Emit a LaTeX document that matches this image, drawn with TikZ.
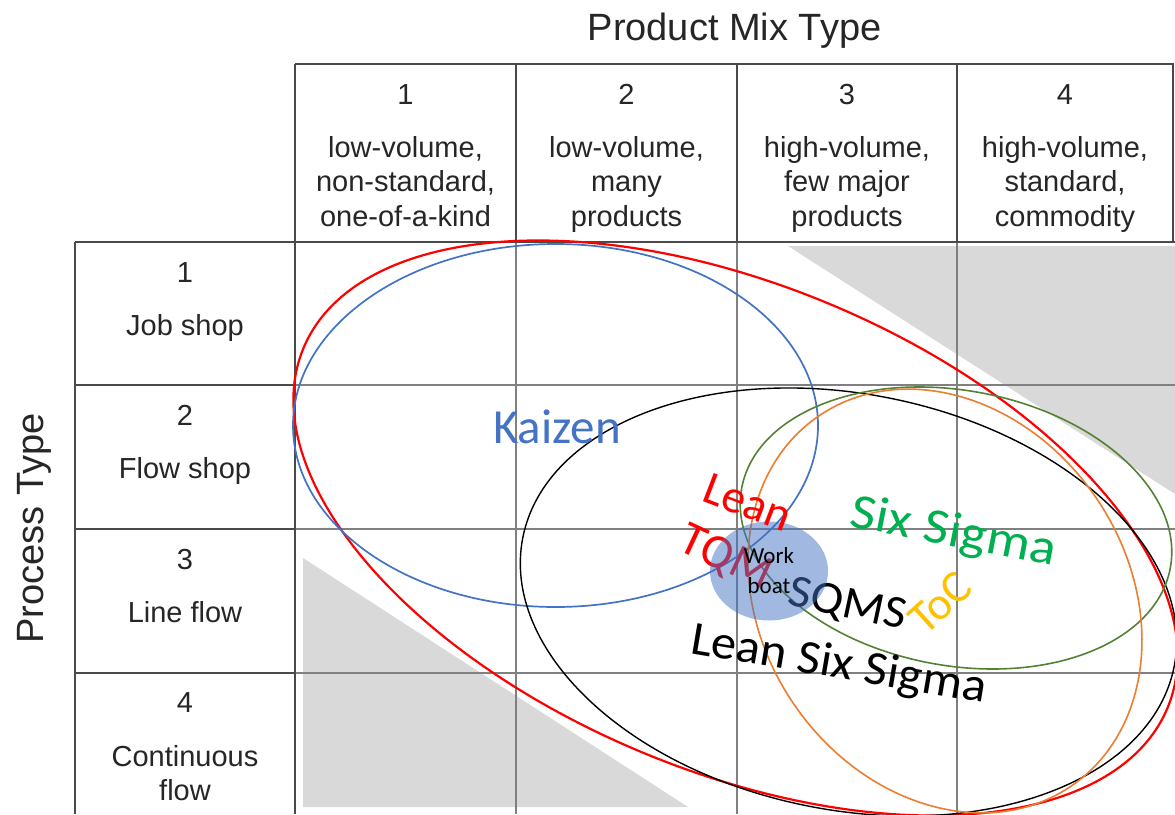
\documentclass[tikz,border=0pt]{standalone}
\usepackage{fontspec}
\usepackage{graphicx}
\setmainfont{Liberation Sans}
\newfontfamily\carl{Carlito}
\usetikzlibrary{shapes.geometric}
\definecolor{shadegray}{HTML}{D9D9D9}
\definecolor{gridgray}{HTML}{808080}
\definecolor{darkline}{HTML}{4A4A4A}
\definecolor{txt}{HTML}{262626}
\definecolor{kblue}{HTML}{4472C4}
\definecolor{sgreen}{HTML}{00B050}
\definecolor{egreen}{HTML}{548235}
\definecolor{eorange}{HTML}{ED7D31}
\definecolor{tocyellow}{HTML}{FFC000}
\begin{document}
\begin{tikzpicture}[x=1pt,y=-1pt,
  gridline/.style={draw=gridgray, line width=2.2pt},
  boxline/.style={draw=darkline, line width=1.8pt},
  tabtext/.style={font=\fontsize{29}{34}\selectfont, text=txt, anchor=base, inner sep=0pt},
  art/.style={anchor=base, inner sep=0pt},
]
\useasboundingbox (0,0) rectangle (1175,814);
\clip (0,0) rectangle (1175,814);
\fill[white] (0,0) rectangle (1175,814);
% grey triangles
\fill[fill=shadegray] (788,246) -- (1175,246) -- (1175,494) -- cycle;
\fill[fill=shadegray] (303,558) -- (688,807) -- (303,807) -- cycle;
% grid lines
\foreach \x in {516,737,957} \draw[gridline] (\x,242) -- (\x,814);
\foreach \y in {385,529,673} \draw[gridline] (295,\y) -- (1175,\y);
\foreach \y in {385,529,673} \draw[boxline] (75,\y) -- (295,\y);
\foreach \x in {516,737,957} \draw[boxline] (\x,64) -- (\x,242);
\draw[boxline] (295,64) -- (1173,64) -- (1173,242);
\draw[boxline] (295,64) -- (295,814);
\draw[boxline] (75,242) -- (1175,242);
\draw[boxline] (75,242) -- (75,814);
% titles
\node[anchor=base, inner sep=0pt, text=txt, font=\fontsize{38}{42}\selectfont] (title) at (734.5,40) {Product Mix Type};
\node[anchor=base, inner sep=0pt, text=txt, rotate=90, font=\fontsize{38}{42}\selectfont] (ptype) at (43,528.5) {Process Type};
% column headers
\foreach \i/\x/\a/\b/\c in {1/405.5/{low-volume,}/{non-standard,}/{one-of-a-kind},
  2/626.5/{low-volume,}/{many}/{products},
  3/847/{high-volume,}/{few major}/{products},
  4/1065/{high-volume,}/{standard,}/{commodity}}{
  \node[tabtext] (colnum\i) at (\x,104) {\i};
  \node[tabtext] (colA\i) at (\x,157) {\a};
  \node[tabtext] (colB\i) at (\x,191.5) {\b};
  \node[tabtext] (colC\i) at (\x,226) {\c};
}
% row headers
\foreach \i/\y/\t in {1/282/Job shop, 2/425.5/Flow shop, 3/569/Line flow}{
  \node[tabtext] (rownum\i) at (185,\y) {\i};
  \node[tabtext] (rowlab\i) at (185,\y+53) {\t};
}
\node[tabtext] (rownum4) at (185,712) {4};
\node[tabtext] (rowlab4a) at (185,766) {Continuous};
\node[tabtext] (rowlab4b) at (185,800) {flow};
% ellipses
\draw[red, line width=2.2pt, rotate around={-22.6:(735.5,528)}] (735.5,528) ellipse [x radius=468, y radius=243];
\draw[kblue, line width=1.7pt] (555.5,425.5) ellipse [x radius=262.5, y radius=181.5];
\draw[black, line width=1.4pt, rotate around={-11.2:(848.5,602)}] (848.5,602) ellipse [x radius=332, y radius=208];
\draw[egreen, line width=1.6pt, rotate around={-10.6:(956,528)}] (956,528) ellipse [x radius=218, y radius=137.5];
\draw[eorange, line width=1.6pt, rotate around={-55.7:(945,601)}] (945,601) ellipse [x radius=224, y radius=183];
% labels under the work boat disc
\node[art, text=red, font=\carl\fontsize{48}{52}\selectfont, rotate=-25] (tqm) at (720,570) {TQM};
\node[art, text=black, font=\carl\fontsize{46}{50}\selectfont, rotate=-12] (sqms) at (845,617) {\scalebox{1.06}[1]{SQMS}};
% work boat disc
\node[ellipse, fill=kblue, fill opacity=0.5, text opacity=1, minimum width=118pt, minimum height=99pt, inner sep=0pt, align=center, font=\carl\fontsize{23}{30}\selectfont] (workboat) at (769,571) {Work\\boat};
% other labels
\node[art, text=red, font=\carl\fontsize{47}{50}\selectfont, rotate=-21] (lean) at (742.5,516.5) {Lean};
\node[art, text=kblue, font=\carl\fontsize{49}{54}\selectfont] (kaizen) at (557,443) {Kaizen};
\node[art, text=sgreen, font=\carl\fontsize{50}{54}\selectfont, rotate=-11] (sixsigma) at (951,546) {\scalebox{1.1}[1]{Six Sigma}};
\node[art, text=tocyellow, font=\carl\fontsize{46}{50}\selectfont, rotate=42] (toc) at (950,614) {ToC};
\node[art, text=black, font=\carl\fontsize{48}{52}\selectfont, rotate=-9.6] (lss) at (836.5,678) {\scalebox{1.05}[1]{Lean Six Sigma}};
\end{tikzpicture}
\end{document}
